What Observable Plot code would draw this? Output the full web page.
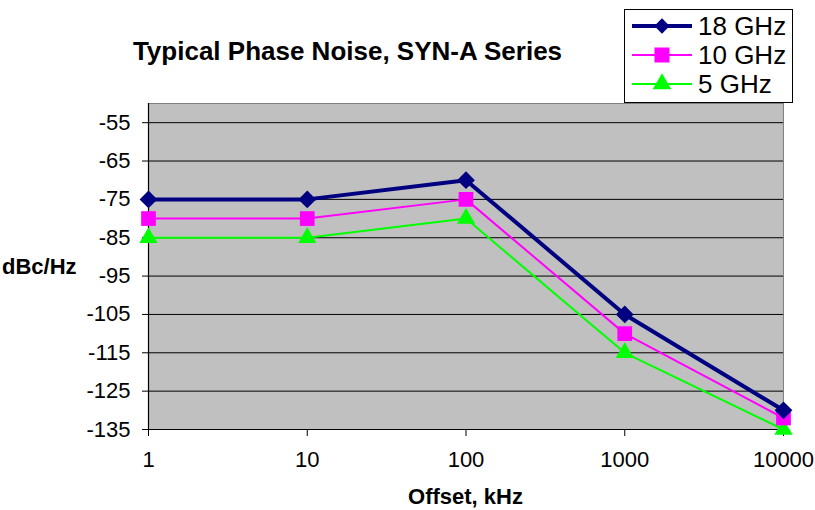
<!DOCTYPE html>
<html>
<head>
<meta charset="utf-8">
<script src="https://cdn.jsdelivr.net/npm/d3@7"></script>
<script src="https://cdn.jsdelivr.net/npm/@observablehq/plot@0.6"></script>
<style>
  body { margin: 0; background: #fff; }
  #wrap { position: relative; width: 815px; height: 510px; font-family: "Liberation Sans", Arial, sans-serif; }
  #title { position: absolute; left: 0; width: 695px; top: 36px; line-height: 30px; text-align: center; font-weight: bold; font-size: 26px; }
  #legend { position: absolute; left: 624px; top: 9px; width: 167px; height: 92px; border: 1px solid #000; background: #fff; }
  .row { position: absolute; left: 6px; height: 30px; line-height: 30px; display: flex; align-items: center; font-size: 26px; }
  .row svg { margin-right: 5px; }
  #ylab { position: absolute; left: 2px; top: 254px; line-height: 26px; font-weight: bold; font-size: 22px; }
  #xlab { position: absolute; left: 148px; width: 635px; top: 484px; line-height: 26px; text-align: center; font-weight: bold; font-size: 22px; }
</style>
</head>
<body>
<div id="wrap">
  <div id="chart"></div>
  <div id="title">Typical Phase Noise, SYN-A Series</div>
  <div id="ylab">dBc/Hz</div>
  <div id="xlab">Offset, kHz</div>
  <div id="legend"></div>
</div>
<script>
const offsets = [1, 10, 100, 1000, 10000];
const ghz18 = [-75, -75, -70, -105, -130];
const ghz10 = [-80, -80, -75, -110, -132];
const ghz5 = [-85, -85, -80, -115, -135];
const yTicks = [-55, -65, -75, -85, -95, -105, -115, -125, -135];
const seriesNames = ["18 GHz", "10 GHz", "5 GHz"];

const series = [
  {name: seriesNames[0], values: ghz18, color: "#000080", width: 4, symbol: "diamond2", r: 8},
  {name: seriesNames[1], values: ghz10, color: "#FF00FF", width: 2, symbol: "square", r: 8.3},
  {name: seriesNames[2], values: ghz5, color: "#00FF00", width: 2, symbol: "triangle", r: 6.8}
];

const marks = [
  Plot.frame({fill: "#C0C0C0", stroke: "#808080"}),
  Plot.gridY(yTicks, {stroke: "#000", strokeOpacity: 1, strokeWidth: 1}),
  Plot.ruleX([1], {stroke: "#000", strokeWidth: 1.2}),
  Plot.ruleY([-135], {stroke: "#000", strokeWidth: 1.2}),
  Plot.axisY(yTicks, {tickSize: 6, tickPadding: 12, fontSize: 22, tickFormat: d => String(d), label: null}),
  Plot.axisX(offsets, {tickSize: 7, tickPadding: 15, fontSize: 22, tickFormat: d => String(d), label: null})
];
for (const s of [...series].reverse()) {
  const data = offsets.map((x, i) => ({x, y: s.values[i]}));
  marks.push(Plot.line(data, {x: "x", y: "y", stroke: s.color, strokeWidth: s.width}));
}
for (const s of [...series].reverse()) {
  const data = offsets.map((x, i) => ({x, y: s.values[i]}));
  marks.push(Plot.dot(data, {x: "x", y: "y", symbol: () => s.symbol, fill: s.color, stroke: "none", r: s.r}));
}

const chart = Plot.plot({
  width: 815,
  height: 510,
  marginLeft: 148,
  marginRight: 32,
  marginTop: 103,
  marginBottom: 81,
  style: {fontFamily: "Liberation Sans, Arial, sans-serif", fontSize: "22px", color: "#000", background: "transparent"},
  x: {type: "log", domain: [1, 10000]},
  y: {domain: [-135, -50]},
  symbol: {type: "identity"},
  marks
});
document.getElementById("chart").appendChild(chart);

// legend
const leg = document.getElementById("legend");
const symPath = {
  "diamond2": d3.symbol(d3.symbolDiamond2, 150)(),
  "square": d3.symbol(d3.symbolSquare, 225)(),
  "triangle": d3.symbol(d3.symbolTriangle, 150)()
};
series.forEach((s, i) => {
  const row = document.createElement("div");
  row.className = "row";
  row.style.top = (1 + i * 29) + "px";
  row.innerHTML = `<svg width="62" height="30"><line x1="1" x2="61" y1="15" y2="15" stroke="${s.color}" stroke-width="${s.width}"/><path transform="translate(31,15)" d="${symPath[s.symbol]}" fill="${s.color}"/></svg><span>${s.name}</span>`;
  leg.appendChild(row);
});
</script>
</body>
</html>
